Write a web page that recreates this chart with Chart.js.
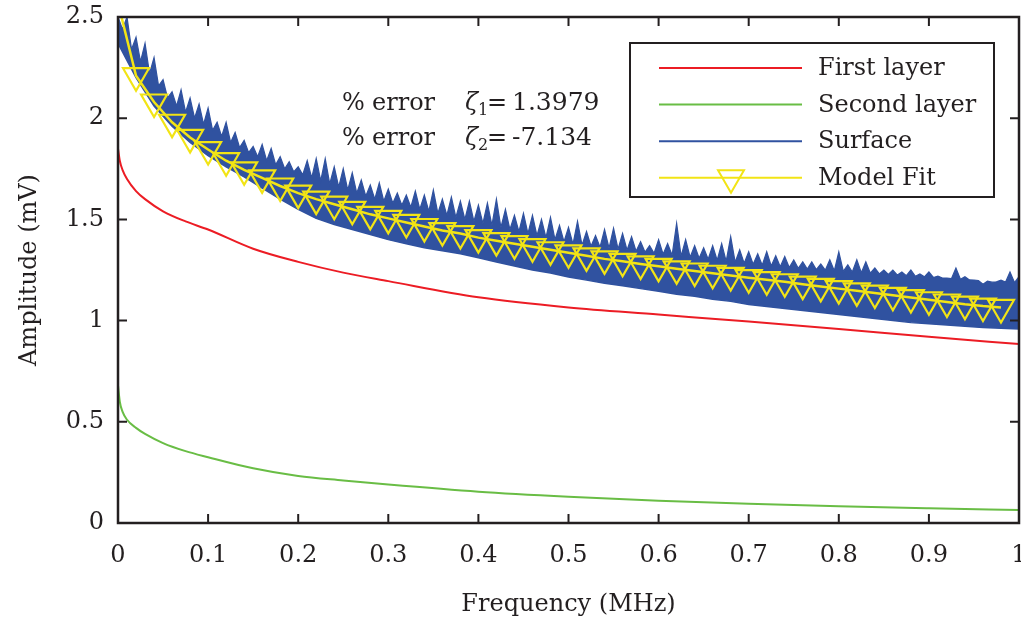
<!DOCTYPE html>
<html>
<head>
<meta charset="utf-8">
<script src="https://cdn.jsdelivr.net/npm/chart.js@4.4.0/dist/chart.umd.min.js"></script>
<style>
body { margin: 0; background: #fff; }
#wrap { width: 1021px; height: 619px; }
</style>
</head>
<body>
<div id="wrap"><canvas id="ampChart" width="1021" height="619"></canvas></div>
<script>
// layer curves (MHz -> mV)
var layerFreq   = [0, 0.002, 0.005, 0.01, 0.02, 0.03, 0.05, 0.075, 0.1, 0.15, 0.2, 0.25, 0.3, 0.4, 0.5, 0.6, 0.7, 0.8, 0.9, 1.0];
var firstLayer  = [1.85, 1.79, 1.745, 1.70, 1.64, 1.60, 1.54, 1.49, 1.45, 1.355, 1.29, 1.237, 1.195, 1.115, 1.065, 1.03, 0.995, 0.958, 0.92, 0.884];
var secondLayer = [0.68, 0.60, 0.55, 0.51, 0.47, 0.44, 0.395, 0.355, 0.325, 0.27, 0.232, 0.21, 0.19, 0.155, 0.13, 0.11, 0.095, 0.083, 0.073, 0.064];

// noisy surface measurement
// spike tops every 0.01 MHz (from 0), dense-band tops between them (from 0.005), lower edge every 0.02 MHz
var surfaceTop = [2.50, 2.50, 2.40, 2.37, 2.30, 2.19, 2.13, 2.14, 2.10, 2.07,
                  2.05, 1.98, 1.98, 1.93, 1.89, 1.86, 1.87, 1.85, 1.81, 1.785,
                  1.76, 1.79, 1.80, 1.80, 1.76, 1.75, 1.73, 1.695, 1.67, 1.68,
                  1.65, 1.63, 1.62, 1.64, 1.62, 1.645, 1.60, 1.61, 1.59, 1.59,
                  1.57, 1.58, 1.60, 1.55, 1.52, 1.53, 1.52, 1.50, 1.51, 1.47,
                  1.46, 1.49, 1.44, 1.42, 1.45, 1.456, 1.43, 1.415, 1.39, 1.37,
                  1.40, 1.38, 1.48, 1.40, 1.37, 1.36, 1.37, 1.38, 1.415, 1.35,
                  1.34, 1.33, 1.34, 1.32, 1.316, 1.30, 1.29, 1.29, 1.28, 1.30,
                  1.34, 1.275, 1.30, 1.29, 1.26, 1.25, 1.25, 1.24, 1.25, 1.23,
                  1.24, 1.22, 1.21, 1.26, 1.217, 1.20, 1.18, 1.19, 1.20, 1.24,
                  1.217];
var surfaceDip = [2.44, 2.34, 2.28, 2.22, 2.16, 2.10, 2.06, 2.03, 2.00, 1.97,
                  1.94, 1.91, 1.88, 1.855, 1.83, 1.81, 1.79, 1.77, 1.75, 1.735,
                  1.72, 1.705, 1.69, 1.675, 1.66, 1.645, 1.63, 1.615, 1.60, 1.59,
                  1.58, 1.57, 1.56, 1.55, 1.54, 1.53, 1.52, 1.51, 1.50, 1.49,
                  1.48, 1.47, 1.46, 1.45, 1.44, 1.43, 1.42, 1.41, 1.40, 1.39,
                  1.378, 1.373, 1.368, 1.363, 1.358, 1.353, 1.348, 1.343, 1.338, 1.333,
                  1.328, 1.323, 1.318, 1.313, 1.308, 1.303, 1.298, 1.293, 1.288, 1.283,
                  1.278, 1.274, 1.27, 1.266, 1.262, 1.258, 1.255, 1.252, 1.249, 1.246,
                  1.243, 1.24, 1.237, 1.234, 1.231, 1.228, 1.225, 1.222, 1.219, 1.216,
                  1.213, 1.21, 1.207, 1.204, 1.201, 1.198, 1.195, 1.192, 1.19, 1.188];
var surfaceLow = [2.37, 2.20, 2.06, 1.96, 1.88, 1.815, 1.76, 1.71, 1.655, 1.60,
                  1.55, 1.505, 1.475, 1.45, 1.425, 1.40, 1.38, 1.36, 1.345, 1.33,
                  1.31, 1.29, 1.27, 1.25, 1.235, 1.215, 1.20, 1.185, 1.172, 1.158,
                  1.145, 1.13, 1.12, 1.105, 1.095, 1.08, 1.07, 1.06, 1.05, 1.04,
                  1.03, 1.02, 1.01, 1.00, 0.99, 0.985, 0.978, 0.972, 0.966, 0.962,
                  0.958];
var topStep = 0.01, lowStep = 0.02;

// model fit (markers every 0.02 MHz)
var fitFreq = [0, 0.02, 0.04, 0.06, 0.08, 0.10, 0.12, 0.14, 0.16, 0.18, 0.20, 0.22, 0.24, 0.26, 0.28, 0.30,
               0.32, 0.34, 0.36, 0.38, 0.40, 0.42, 0.44, 0.46, 0.48, 0.50, 0.52, 0.54, 0.56, 0.58, 0.60,
               0.62, 0.64, 0.66, 0.68, 0.70, 0.72, 0.74, 0.76, 0.78, 0.80, 0.82, 0.84, 0.86, 0.88, 0.90,
               0.92, 0.94, 0.96, 0.98];
var fitAmp = [2.57, 2.21, 2.08, 1.98, 1.905, 1.845, 1.79, 1.745, 1.705, 1.665, 1.63, 1.60, 1.575, 1.55, 1.525, 1.505,
              1.485, 1.465, 1.445, 1.43, 1.41, 1.395, 1.38, 1.365, 1.35, 1.335, 1.32, 1.305, 1.293, 1.28, 1.268,
              1.256, 1.245, 1.234, 1.223, 1.212, 1.202, 1.192, 1.18, 1.169, 1.158, 1.147, 1.136, 1.125, 1.114, 1.103,
              1.092, 1.081, 1.072, 1.065];

var xTicks = [0, 0.1, 0.2, 0.3, 0.4, 0.5, 0.6, 0.7, 0.8, 0.9, 1];
var yTicks = [0, 0.5, 1, 1.5, 2, 2.5];
var seriesNames = ["First layer", "Second layer", "Surface", "Model Fit"];
var errorLines = [["1", "1.3979"], ["2", "-7.134"]];

var RED = "#ec1c24", GREEN = "#69bd45", BLUE = "#3052a0", YELLOW = "#f2e415", INK = "#231f20";
var FONT = '"DejaVu Serif", serif';

function pts(xs, ys) {
    return ys.map(function (y, i) { return { x: xs[i], y: y }; });
}
// upper edge: spike top, then the dense band top just after it
var topPts = [];
surfaceTop.forEach(function (y, i) {
    topPts.push({ x: i * topStep, y: y });
    if (i < surfaceDip.length) topPts.push({ x: i * topStep + topStep / 2, y: surfaceDip[i] });
});
var lowPts = surfaceLow.map(function (y, i) { return { x: i * lowStep, y: y }; });

// box + inward ticks on all four sides
var framePlugin = {
    id: "frame",
    afterDatasetsDraw: function (chart) {
        var ctx = chart.ctx, a = chart.chartArea, sx = chart.scales.x, sy = chart.scales.y;
        ctx.save();
        ctx.strokeStyle = INK;
        ctx.lineWidth = 2.5;
        ctx.strokeRect(a.left, a.top, a.right - a.left, a.bottom - a.top);
        ctx.lineWidth = 2;
        ctx.beginPath();
        xTicks.forEach(function (v) {
            var px = sx.getPixelForValue(v);
            ctx.moveTo(px, a.bottom); ctx.lineTo(px, a.bottom - 9);
            ctx.moveTo(px, a.top); ctx.lineTo(px, a.top + 9);
        });
        yTicks.forEach(function (v) {
            var py = sy.getPixelForValue(v);
            ctx.moveTo(a.left, py); ctx.lineTo(a.left + 9, py);
            ctx.moveTo(a.right, py); ctx.lineTo(a.right - 9, py);
        });
        ctx.stroke();
        ctx.restore();
    }
};

function downTriangle(ctx, x, y, r) {
    ctx.beginPath();
    ctx.moveTo(x, y + r);
    ctx.lineTo(x - r * Math.sin(Math.PI / 3), y - r / 2);
    ctx.lineTo(x + r * Math.sin(Math.PI / 3), y - r / 2);
    ctx.closePath();
    ctx.stroke();
}

// boxed legend in the top right + error note
var notePlugin = {
    id: "notes",
    afterDraw: function (chart) {
        var ctx = chart.ctx;
        ctx.save();
        ctx.fillStyle = "#fff";
        ctx.fillRect(630, 43, 364, 154);
        ctx.strokeStyle = INK;
        ctx.lineWidth = 2;
        ctx.strokeRect(630, 43, 364, 154);
        var colors = [RED, GREEN, BLUE, YELLOW];
        ctx.font = "24px " + FONT;
        ctx.textBaseline = "middle";
        seriesNames.forEach(function (name, i) {
            var y = 68 + i * 36.6;
            ctx.strokeStyle = colors[i];
            ctx.lineWidth = 2;
            ctx.beginPath(); ctx.moveTo(659, y); ctx.lineTo(802, y); ctx.stroke();
            if (i === 3) downTriangle(ctx, 731, y, 15);
            ctx.fillStyle = INK;
            ctx.fillText(name, 818, y + 1);
        });

        ctx.textBaseline = "alphabetic";
        errorLines.forEach(function (ln, i) {
            var y = 110 + i * 35;
            ctx.font = "24px " + FONT;
            ctx.fillText("%", 342, y);
            ctx.fillText("error", 372, y);
            ctx.font = "italic 24px " + FONT;
            ctx.fillText("\u03b6", 465, y);
            ctx.font = "16px " + FONT;
            ctx.fillText(ln[0], 478, y + 5);
            ctx.font = "24px " + FONT;
            ctx.fillText("=", 487, y);
            ctx.font = "25px " + FONT;
            ctx.fillText(ln[1], 512, y);
        });
        ctx.restore();
    }
};

new Chart("ampChart", {
    type: "line",
    data: {
        datasets: [{
            label: "Model Fit",
            data: pts(fitFreq, fitAmp),
            borderColor: YELLOW,
            borderWidth: 2.5,
            pointStyle: "triangle",
            rotation: 180,
            pointRadius: function (c) { return c.dataIndex === 0 ? 0 : 15; },
            pointBorderWidth: 2.2,
            pointBorderColor: YELLOW,
            pointBackgroundColor: "rgba(0,0,0,0)",
            tension: 0
        }, {
            label: "Surface",
            data: topPts,
            borderColor: BLUE,
            borderWidth: 1.2,
            backgroundColor: BLUE,
            fill: "+1",
            pointRadius: 0,
            tension: 0
        }, {
            label: "Surface (low)",
            data: lowPts,
            borderColor: BLUE,
            borderWidth: 1.5,
            pointRadius: 0,
            tension: 0
        }, {
            label: "First layer",
            data: pts(layerFreq, firstLayer),
            borderColor: RED,
            borderWidth: 2,
            pointRadius: 0,
            cubicInterpolationMode: "monotone"
        }, {
            label: "Second layer",
            data: pts(layerFreq, secondLayer),
            borderColor: GREEN,
            borderWidth: 2,
            pointRadius: 0,
            cubicInterpolationMode: "monotone"
        }]
    },
    options: {
        responsive: false,
        animation: false,
        devicePixelRatio: 1,
        layout: { autoPadding: false, padding: { top: 17, right: 2, left: 0, bottom: 0 } },
        plugins: { legend: { display: false }, tooltip: { enabled: false } },
        scales: {
            x: {
                type: "linear", min: 0, max: 1,
                afterBuildTicks: function (s) { s.ticks = xTicks.map(function (v) { return { value: v }; }); },
                afterFit: function (s) { s.height = 96; s.paddingLeft = 0; s.paddingRight = 0; },
                ticks: {
                    color: INK, padding: 10,
                    font: { family: FONT, size: 24 },
                    callback: function (v) { return String(+v.toFixed(1)); }
                },
                grid: { display: false },
                border: { display: false },
                title: { display: true, text: "Frequency (MHz)", color: INK, font: { family: FONT, size: 24 }, padding: { top: 0, bottom: 0 } }
            },
            y: {
                min: 0, max: 2.5,
                afterBuildTicks: function (s) { s.ticks = yTicks.map(function (v) { return { value: v }; }); },
                afterFit: function (s) { s.width = 118; s.paddingTop = 0; s.paddingBottom = 0; },
                ticks: {
                    color: INK, padding: 6,
                    font: { family: FONT, size: 24 },
                    callback: function (v) { return String(v); }
                },
                grid: { display: false },
                border: { display: false },
                title: { display: true, text: "Amplitude (mV)", color: INK, font: { family: FONT, size: 24 }, padding: { top: 15, bottom: 0 } }
            }
        }
    },
    plugins: [framePlugin, notePlugin]
});
</script>
</body>
</html>
